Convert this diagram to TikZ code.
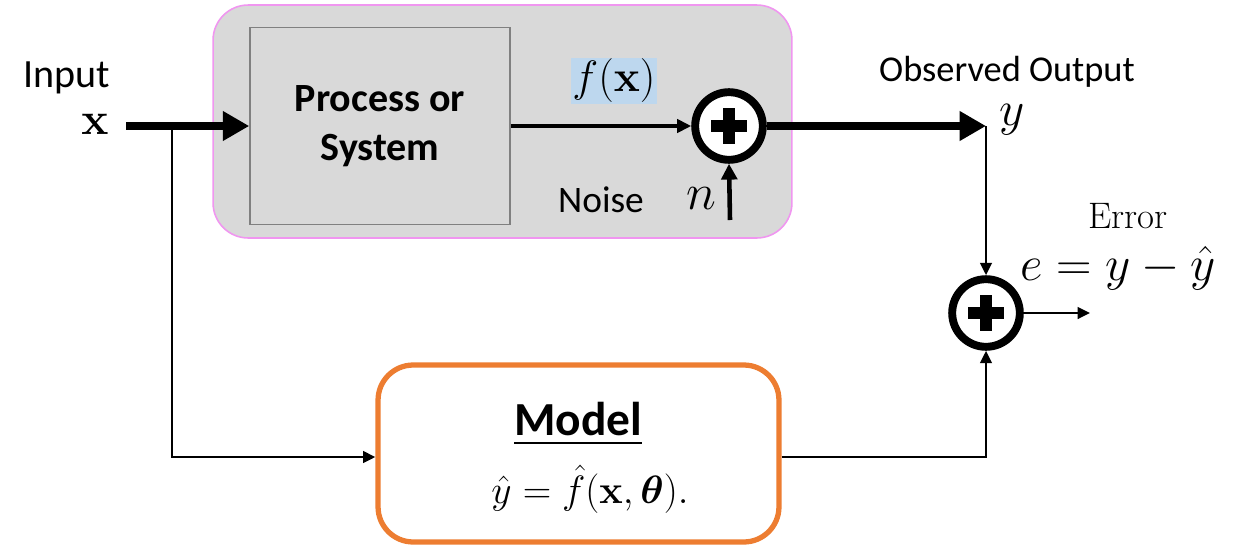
\RequirePackage{fix-cm}
\documentclass[tikz,border=0pt]{standalone}
\usepackage{amsmath}
\usepackage{amssymb}
\usepackage[no-math]{fontspec}
\newfontfamily\calibri{Carlito}
\usetikzlibrary{arrows.meta,positioning}

\definecolor{boxgray}{RGB}{217,217,217}
\definecolor{pinkline}{RGB}{240,150,240}
\definecolor{modelorange}{RGB}{237,125,49}
\definecolor{hlblue}{RGB}{189,215,238}

\tikzset{
  sumjunc/.style={circle, draw, fill=white, line width=4.5pt, minimum size=38.5pt, inner sep=0pt,
    path picture={
      \fill[black] ([xshift=-10pt,yshift=-3.4pt]path picture bounding box.center) rectangle ([xshift=10pt,yshift=3.4pt]path picture bounding box.center);
      \fill[black] ([xshift=-3.4pt,yshift=-10pt]path picture bounding box.center) rectangle ([xshift=3.4pt,yshift=10pt]path picture bounding box.center);
    }},
  bigarrow/.style={line width=5pt, -{Triangle[length=15pt,width=16pt]}},
  midarrow/.style={line width=2.4pt, -{Triangle[length=8pt,width=7.5pt]}},
  thinarrow/.style={line width=1.6pt, -{Triangle[length=7pt,width=6.5pt]}},
  sanslabel/.style={font=\calibri\fontsize{#1}{#1}\selectfont, inner sep=0pt},
  mathlabel/.style={font=\fontsize{#1}{#1}\selectfont, inner sep=0pt}
}

\begin{document}
\begin{tikzpicture}[x=0.02cm, y=-0.02cm]
    \useasboundingbox (0,0) rectangle (1247,548);
    \node[draw=pinkline, line width=0.9pt, fill=boxgray, rounded corners=20pt, minimum width=11.58cm, minimum height=4.66cm] (plant) at (502.5,121.5) {};
    \node[draw=gray, line width=0.9pt, fill=boxgray, minimum width=5.2cm, minimum height=3.94cm, align=center, font=\calibri\bfseries\fontsize{22.8}{27.5}\selectfont] (proc) at (380,126) {Process or\\System};
    \node[draw=modelorange, line width=3pt, fill=white, rounded corners=20pt, minimum width=8.02cm, minimum height=3.54cm] (model) at (578.5,453.5) {};
    \node[sanslabel=27, font=\calibri\bfseries\fontsize{27}{27}\selectfont] (modelname) at (578,424) {\underline{Model}};
    \node[mathlabel=22.5] (modeleq) at (590,489) {$\hat{y} = \hat{f}(\mathbf{x},\boldsymbol{\theta}).$};
    \node[sumjunc] (sum1) at (729,126) {};
    \node[sumjunc] (sum2) at (986,313) {};
    \node[sanslabel=22.8] (inlabel) at (67,78) {Input};
    \node[mathlabel=26] (inx) at (95,124) {$\mathbf{x}$};
    \node[mathlabel=25, fill=hlblue, inner sep=0.6pt] (fx) at (614,81) {$f(\mathbf{x})$};
    \node[sanslabel=21.3] (noise) at (601,200) {Noise};
    \node[mathlabel=29] (nlabel) at (701,199) {$n$};
    \node[sanslabel=20.7] (obs) at (1007,72) {Observed Output};
    \node[mathlabel=28] (ylabel) at (1012,120) {$y$};
    \node[font=\fontsize{21}{21}\selectfont, inner sep=0pt] (err) at (1128,216) {Error};
    \node[mathlabel=28] (errdef) at (1118,268) {$e = y - \hat{y}$};
    \coordinate (split) at (172,126);
    \coordinate (ycorner) at (986,126);
    \coordinate (nstart) at (730,220);
    \coordinate (eout) at (1090,313);
    \draw[bigarrow] ([xshift=10pt]inx.east |- proc.west) -- (proc.west);
    \draw[thinarrow] (split) |- ([yshift=-2pt]model.west);
    \draw[midarrow] (proc.east) -- (sum1.west);
    \draw[line width=2.6pt, -{Triangle[length=9pt,width=9pt]}] (nstart) -- (sum1.south);
    \draw[bigarrow] (sum1.east) -- (ycorner);
    \draw[thinarrow] (ycorner) -- (sum2.north);
    \draw[thinarrow] ([yshift=-2pt]model.east) -| (sum2.south);
    \draw[thinarrow] (sum2.east) -- (eout);
\end{tikzpicture}
\end{document}
